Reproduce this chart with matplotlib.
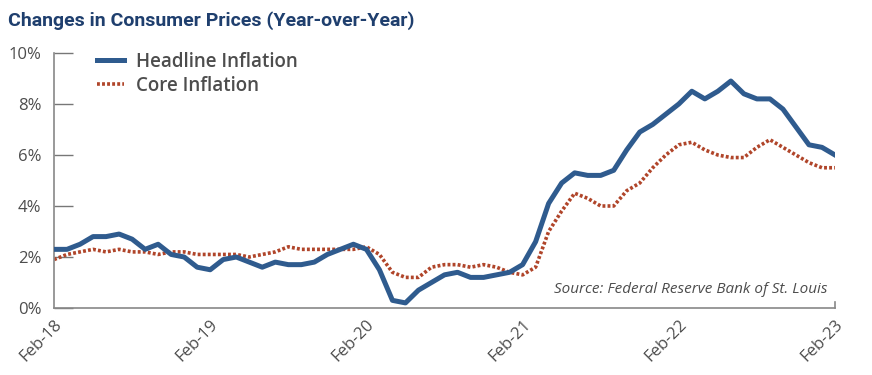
import matplotlib
matplotlib.use("Agg")
import matplotlib.pyplot as plt
from matplotlib import font_manager

# Monthly data Feb-2018 .. Feb-2023 (61 points)
headline = [2.3, 2.3, 2.5, 2.8, 2.8, 2.9, 2.7, 2.3, 2.5, 2.1, 2.0,
            1.6, 1.5, 1.9, 2.0, 1.8, 1.6, 1.8, 1.7, 1.7, 1.8, 2.1, 2.3,
            2.5, 2.3, 1.5, 0.3, 0.2, 0.7, 1.0, 1.3, 1.4, 1.2, 1.2, 1.3,
            1.4, 1.7, 2.6, 4.1, 4.9, 5.3, 5.2, 5.2, 5.4, 6.2, 6.9, 7.2,
            7.6, 8.0, 8.5, 8.2, 8.5, 8.9, 8.4, 8.2, 8.2, 7.8, 7.1, 6.4,
            6.3, 6.0]
core = [1.9, 2.1, 2.2, 2.3, 2.2, 2.3, 2.2, 2.2, 2.1, 2.2, 2.2,
        2.1, 2.1, 2.1, 2.1, 2.0, 2.1, 2.2, 2.4, 2.3, 2.3, 2.3, 2.3,
        2.3, 2.4, 2.1, 1.4, 1.2, 1.2, 1.6, 1.7, 1.7, 1.6, 1.7, 1.6,
        1.4, 1.3, 1.6, 3.0, 3.8, 4.5, 4.3, 4.0, 4.0, 4.6, 4.9, 5.5,
        6.0, 6.4, 6.5, 6.2, 6.0, 5.9, 5.9, 6.3, 6.6, 6.3, 6.0, 5.7,
        5.5, 5.5]
tick_labels = ["Feb-18", "Feb-19", "Feb-20", "Feb-21", "Feb-22", "Feb-23"]
y_ticks = [0, 2, 4, 6, 8, 10]

avail = {f.name for f in font_manager.fontManager.ttflist}
def pick(names):
    return [n for n in names if n in avail] + ["DejaVu Sans"]

body_font = pick(["Open Sans", "Lato"])
title_font = pick(["Liberation Sans Narrow", "Roboto", "Open Sans"])

TXT = "#4d4d4d"
BLUE = "#2f5b8e"
RED = "#b0452a"

W, H = 872, 375
fig = plt.figure(figsize=(W/100, H/100), dpi=100)
ax = fig.add_axes([54/W, 1-308/H, (835-54)/W, (308-53)/H])

x = list(range(len(headline)))
ax.plot(x, headline, color=BLUE, lw=3.6, label="Headline Inflation", zorder=3)
ax.plot(x, core, color=RED, lw=2.6, linestyle=(0, (0.8, 0.6)), label="Core Inflation", zorder=2)

ax.set_xlim(0, 60)
ax.set_ylim(0, 10)
ax.set_yticks(y_ticks)
ax.set_yticklabels([f"{v}%" for v in y_ticks], fontsize=12, color=TXT, family=body_font)
ax.set_xticks([0, 12, 24, 36, 48, 60])
ax.set_xticklabels(tick_labels, fontsize=12, color=TXT, family=body_font,
                   rotation=45, ha="right", rotation_mode="anchor")
ax.tick_params(axis="y", direction="in", length=14, width=1, color="#777777", pad=9)
ax.tick_params(axis="x", length=0, pad=6)
for s in ["top", "right"]:
    ax.spines[s].set_visible(False)
for s in ["left", "bottom"]:
    ax.spines[s].set_color("#888888")
    ax.spines[s].set_linewidth(1.2)
# small end tick at right end of x axis
ax.plot([60, 60], [0, 0.25], color="#888888", lw=1.2, clip_on=False)

leg = ax.legend(loc="upper left", bbox_to_anchor=(97/W, 1-52/H),
                bbox_transform=fig.transFigure, frameon=False, borderpad=0,
                borderaxespad=0,
                prop={"family": body_font, "size": 13.5, "weight": "semibold"},
                handlelength=1.45, handletextpad=0.65, labelspacing=0.2)
for t in leg.get_texts():
    t.set_color(TXT)

ax.text(0.99, 0.045, "Source: Federal Reserve Bank of St. Louis", transform=ax.transAxes,
        ha="right", va="bottom", fontsize=11, style="italic", color=TXT, family=body_font)

fig.text(8/W, 1-21/H, "Changes in Consumer Prices (Year-over-Year)", fontsize=14,
         fontweight="bold", color="#1f3f6e", family=title_font, va="center", ha="left")

fig.savefig("out.png", dpi=100)
